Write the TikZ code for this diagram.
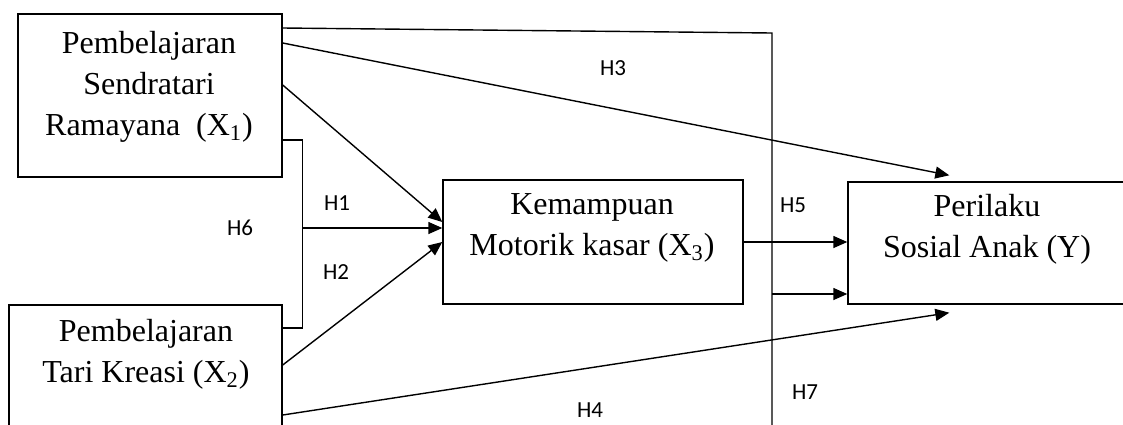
\documentclass[tikz,border=0pt]{standalone}
\usepackage{fontspec}
\setmainfont{Liberation Serif}
\newfontfamily\hfont{Carlito}
\usetikzlibrary{arrows.meta}
\begin{document}
\begin{tikzpicture}[x=0.5pt,y=-0.5pt,
    box/.style={draw,line width=0.7pt,inner sep=0pt},
    txt/.style={align=center,inner sep=0pt,font=\fontsize{16}{20.5}\selectfont},
    hyp/.style={font=\hfont\fontsize{11.5}{13}\selectfont},
    arr/.style={line width=0.7pt,-{Triangle[length=7pt,width=6pt]}}]
  \path[use as bounding box,clip] (0,0) rectangle (1123,424);
  % boxes
  \node[box,minimum width=132pt,minimum height=81.5pt] (x1) at (150,95.5) {};
  \node[box,minimum width=136.5pt,minimum height=72.5pt] (x2) at (145.5,377.5) {};
  \node[box,minimum width=150pt,minimum height=62pt] (x3) at (593,242) {};
  \node[box,minimum width=146pt,minimum height=61pt] (y) at (994,243) {};
  \node[txt] (x1t) at (149,86.5) {Pembelajaran\\Sendratari\\Ramayana\ \ (X\textsubscript{1})};
  \node[txt] (x2t) at (146,354) {Pembelajaran\\Tari Kreasi (X\textsubscript{2})};
  \node[txt] (x3t) at (592,228) {Kemampuan\\Motorik kasar (X\textsubscript{3})};
  \node[txt] (yt) at (987,229.5) {Perilaku\\Sosial Anak (Y)};
  % paths
  \coordinate (h6) at (302,228);
  \coordinate (h7a) at (772,33);
  \coordinate (h7b) at (772,440);
  \coordinate (h7c) at (772,294);
  \draw[arr] ([yshift=5.25pt]x1.east) -- ([yshift=10pt]x3.west);
  \draw[arr] ([yshift=6.25pt]x2.east) -- (x3.west);
  \draw[line width=0.7pt] ([yshift=-22.25pt]x1.east) -- ++(20,0) |- ([yshift=24.75pt]x2.east);
  \draw[arr] (h6) -- (h6 -| x3.west);
  \draw[arr] ([yshift=26.25pt]x1.east) -- ([xshift=51pt,yshift=3pt]y.north west);
  \draw[arr] ([yshift=-18.75pt]x2.east) -- ([xshift=51pt,yshift=-4pt]y.south west);
  \draw[arr] (x3.east) -- (x3.east -| y.west);
  \draw[line width=0.7pt] ([yshift=33.75pt]x1.east) -- (h7a) -- (h7b);
  \draw[arr] (h7c) -- (h7c -| y.west);
  % labels
  \node[hyp] (l1) at (337,203) {H1};
  \node[hyp] (l2) at (336,272) {H2};
  \node[hyp] (l3) at (613,68) {H3};
  \node[hyp] (l4) at (590,410) {H4};
  \node[hyp] (l5) at (793,205) {H5};
  \node[hyp] (l6) at (240,228) {H6};
  \node[hyp] (l7) at (805,392) {H7};
\end{tikzpicture}
\end{document}
